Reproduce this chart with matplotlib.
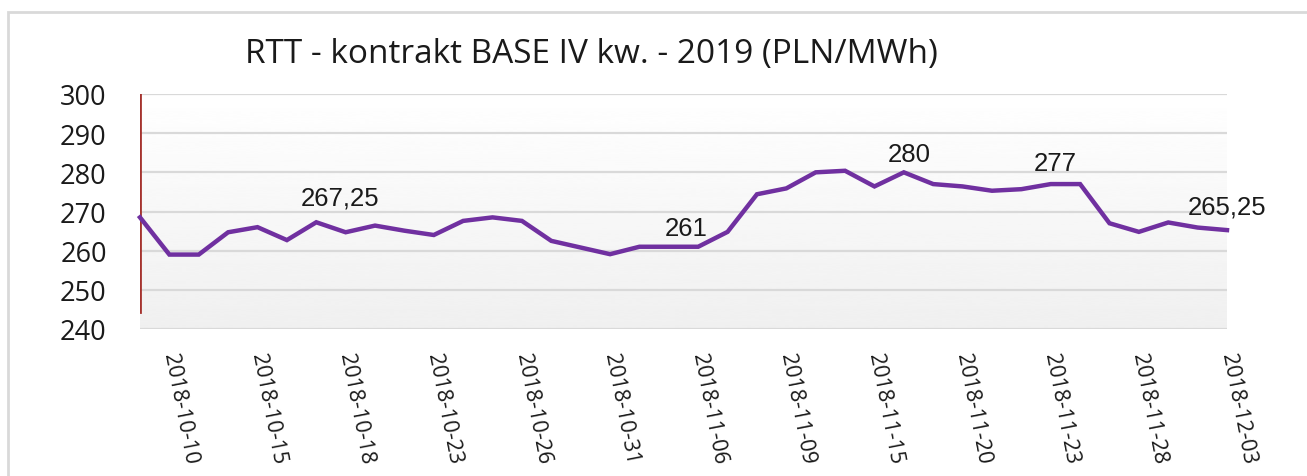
import matplotlib.pyplot as plt
import numpy as np
from matplotlib.patches import Rectangle

# trading days (tick label every 3rd day, starting from the 2nd one)
dates = ['2018-10-09', '2018-10-10', '2018-10-11', '2018-10-12', '2018-10-15',
         '2018-10-16', '2018-10-17', '2018-10-18', '2018-10-19', '2018-10-22',
         '2018-10-23', '2018-10-24', '2018-10-25', '2018-10-26', '2018-10-29',
         '2018-10-30', '2018-10-31', '2018-11-02', '2018-11-05', '2018-11-06',
         '2018-11-07', '2018-11-08', '2018-11-09', '2018-11-13', '2018-11-14',
         '2018-11-15', '2018-11-16', '2018-11-19', '2018-11-20', '2018-11-21',
         '2018-11-22', '2018-11-23', '2018-11-26', '2018-11-27', '2018-11-28',
         '2018-11-29', '2018-11-30', '2018-12-03']
prices = [268.5, 259.0, 259.0, 264.7, 266.0, 262.7, 267.25, 264.7, 266.4, 265.1,
          264.0, 267.6, 268.5, 267.6, 262.5, 260.8, 259.1, 261.0, 261.0, 261.0,
          264.8, 274.4, 275.9, 280.0, 280.4, 276.4, 280.0, 277.0, 276.4, 275.3,
          275.7, 277.0, 277.0, 267.0, 264.8, 267.2, 265.9, 265.25]
labelled = [6, 18, 26, 31, 37]
label_texts = ['267,25', '261', '280', '277', '265,25']
label_offsets = [(24, 25), (17, 19), (5, 18), (5, 21), (0, 24)]
yticks = [240, 250, 260, 270, 280, 290, 300]

W, H = 1307, 477
fig = plt.figure(figsize=(W / 100, H / 100), dpi=100)
ax = fig.add_axes([140 / W, 1 - 330 / H, (1227 - 140) / W, (330 - 95) / H])

x = np.arange(len(prices))
n = len(prices) - 1

# gradient plot area
grad = np.linspace(1.0, 0.94, 256).reshape(-1, 1)
ax.imshow(grad, extent=[0, n, 240, 300], aspect='auto', cmap='gray',
          vmin=0, vmax=1, zorder=0, interpolation='bicubic')

for t in yticks:
    ax.axhline(t, color='#d9d9d9', lw=1.6, zorder=1)
ax.axvline(0, ymin=(244.3 - 240) / 60, ymax=1, color='#a5332e', lw=2, zorder=2)

ax.plot(x, prices, color='#7030a0', lw=3.2, solid_joinstyle='miter', zorder=3, clip_on=False)

for i, txt, (dx, dy) in zip(labelled, label_texts, label_offsets):
    ax.annotate(txt, (x[i], prices[i]), xytext=(dx, dy), textcoords='offset pixels',
                ha='center', va='center', fontsize=18.5, family='Liberation Sans',
                color='#1a1a1a', zorder=4)

ax.set_xlim(0, n)
ax.set_ylim(240, 300)
ax.set_yticks(yticks)
ax.set_yticklabels([str(t) for t in yticks], fontsize=19.5, family='Open Sans', color='#1a1a1a')
tick_idx = list(range(1, len(dates), 3))
ax.set_xticks(tick_idx)
ax.set_xticklabels([dates[i] for i in tick_idx], fontsize=15.5, family='Open Sans',
                   color='#1a1a1a', rotation=-79, ha='left', va='center',
                   rotation_mode='anchor')
ax.tick_params(axis='y', length=0, pad=24)
ax.tick_params(axis='x', length=0, pad=17)
for s in ax.spines.values():
    s.set_visible(False)

fig.text(591 / W, 1 - 55 / H, 'RTT - kontrakt BASE IV kw. - 2019 (PLN/MWh)',
         ha='center', va='center', fontsize=24, family=['Liberation Sans Narrow', 'Open Sans'],
         color='#1a1a1a')

fig.patches.append(Rectangle((8 / W, -0.1), 1.2, 1 - 13 / H + 0.1, transform=fig.transFigure,
                             fill=False, edgecolor='#d9d9d9', lw=2))

fig.savefig('out.png', dpi=100)
